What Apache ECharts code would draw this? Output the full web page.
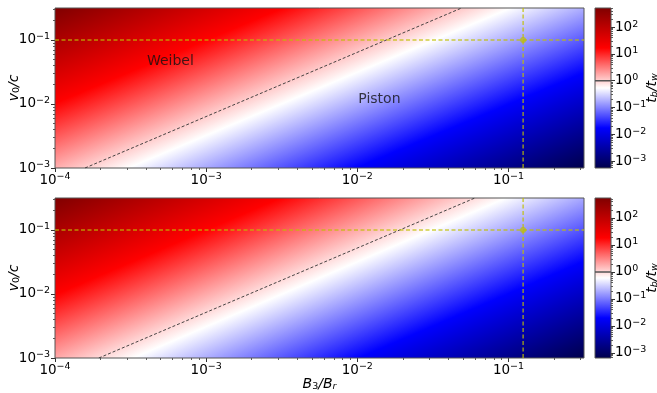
<!DOCTYPE html>
<html>
<head>
<meta charset="utf-8">
<script src="https://cdn.jsdelivr.net/npm/echarts@6.0.0/dist/echarts.min.js"></script>
<style>
  html, body { margin: 0; padding: 0; background: #fff; }
  #chart { width: 657px; height: 393px; }
</style>
</head>
<body>
<div id="chart"></div>
<script>
  // axis ranges and ticks (real units, axes are log10)
  var xRange = [1e-4, 0.316];
  var yRange = [1e-3, 0.316];
  var xTickValues = [1e-4, 1e-3, 1e-2, 1e-1];
  var yTickValues = [1e-3, 1e-2, 1e-1];
  var cbTickValues = [1e-3, 1e-2, 1e-1, 1, 10, 100];
  var minorMantissa = [2, 3, 4, 5, 6, 7, 8, 9];

  // t_b/t_w read at three corners of each panel
  var topCornerX = [1e-4, 1e-4, 0.316];
  var topCornerY = [1e-3, 0.316, 1e-3];
  var topCornerT = [1.6, 513, 5.5e-4];
  var botCornerX = [1e-4, 1e-4, 0.316];
  var botCornerY = [1e-3, 0.316, 1e-3];
  var botCornerT = [1.95, 550, 6.5e-4];

  // colour bar limits
  var topColorRange = [5.5e-4, 513];
  var botColorRange = [6.5e-4, 550];

  // t_b/t_w = 1 contour
  var topContourX = [1.58e-4, 0.049];
  var topContourY = [1e-3, 0.316];
  var botContourX = [1.95e-4, 0.060];
  var botContourY = [1e-3, 0.316];

  // yellow cross
  var markerX = [0.125];
  var markerY = [0.1];

  // region names (top panel)
  var regionNames = ['Weibel', 'Piston'];
  var regionX = [5.8e-4, 0.014];
  var regionY = [0.047, 0.0117];

  // seismic colormap
  var cmapOffsets = [0, 0.25, 0.5, 0.75, 1];
  var cmapColors = ['#00004d', '#0000ff', '#ffffff', '#ff0000', '#800000'];

  var FONT = 'DejaVu Sans';
  var lg = function (v) { return Math.log10(v); };
  var cmapStops = cmapOffsets.map(function (o, i) { return { offset: o, color: cmapColors[i] }; });

  function minorTicks(lo, hi) {
    var out = [];
    for (var k = Math.floor(lo) - 1; k <= Math.ceil(hi); k++) {
      minorMantissa.forEach(function (m) {
        var v = k + lg(m);
        if (v >= lo - 1e-9 && v <= hi + 1e-9) out.push(v);
      });
    }
    return out;
  }

  function pow10(v) {
    var e = Math.round(v);
    return '{b|10}{s|' + (e < 0 ? '\u2212' + (-e) : e) + '}';
  }

  var tickRich = {
    b: { fontSize: 13.5, lineHeight: 16, verticalAlign: 'middle', fontFamily: FONT, color: '#000' },
    s: { fontSize: 9.5, lineHeight: 8, verticalAlign: 'top', fontFamily: FONT, color: '#000' }
  };
  var nameRich = {
    i: { fontSize: 14, lineHeight: 16, verticalAlign: 'middle', fontStyle: 'italic', fontFamily: FONT, color: '#000' },
    d: { fontSize: 9.5, lineHeight: 8, verticalAlign: 'bottom', fontStyle: 'italic', fontFamily: FONT, color: '#000' },
    n: { fontSize: 9.5, lineHeight: 8, verticalAlign: 'bottom', fontFamily: FONT, color: '#000' }
  };

  function axisPair(dim, grid, range, ticks, name, nameGap) {
    var lo = lg(range[0]), hi = lg(range[1]);
    var major = {
      type: 'value', gridIndex: grid, min: lo, max: hi,
      position: dim === 'x' ? 'bottom' : 'left',
      axisLine: { show: false, onZero: false },
      splitLine: { show: false },
      axisTick: { show: true, length: 4, customValues: ticks.map(lg), lineStyle: { color: '#333', width: 1 } },
      axisLabel: { customValues: ticks.map(lg), formatter: pow10, rich: tickRich, margin: dim === 'x' ? 4 : 5 }
    };
    if (name) {
      major.name = name;
      major.nameLocation = 'middle';
      major.nameGap = nameGap;
      major.nameMoveOverlap = false;
      major.nameTextStyle = { rich: nameRich };
      if (dim === 'y') major.nameRotate = 90;
    }
    var minor = {
      type: 'value', gridIndex: grid, min: lo, max: hi,
      position: dim === 'x' ? 'bottom' : 'left',
      axisLine: { show: false, onZero: false },
      splitLine: { show: false },
      axisTick: { show: true, length: 2, customValues: minorTicks(lo, hi), lineStyle: { color: '#333', width: 0.8 } },
      axisLabel: { show: false }
    };
    return [major, minor];
  }

  function cbAxes(grid, range) {
    var lo = lg(range[0]), hi = lg(range[1]);
    return [{
      type: 'value', gridIndex: grid, min: lo, max: hi, position: 'right',
      axisLine: { show: false, onZero: false },
      splitLine: { show: false },
      axisTick: { show: true, length: 4, customValues: cbTickValues.map(lg), lineStyle: { color: '#333', width: 1 } },
      axisLabel: { customValues: cbTickValues.map(lg), formatter: pow10, rich: tickRich, margin: 4 },
      name: '{i|t}{d|b}{i|/t}{d|w}', nameLocation: 'middle', nameRotate: 90, nameGap: 33,
      nameMoveOverlap: false,
      nameTextStyle: { rich: nameRich }
    }, {
      type: 'value', gridIndex: grid, min: lo, max: hi, position: 'right',
      axisLine: { show: false, onZero: false },
      splitLine: { show: false },
      axisTick: { show: true, length: 2, customValues: minorTicks(lo, hi), lineStyle: { color: '#333', width: 0.8 } },
      axisLabel: { show: false }
    }];
  }

  // log-log field is a plane: fit it through the three corner readings, fill with a gradient
  function fieldRender(cx, cy, ct, range) {
    return function (params, api) {
      var p = [], v = [];
      for (var i = 0; i < 3; i++) {
        p.push(api.coord([lg(cx[i]), lg(cy[i])]));
        v.push(lg(ct[i]));
      }
      var d1x = p[1][0] - p[0][0], d1y = p[1][1] - p[0][1];
      var d2x = p[2][0] - p[0][0], d2y = p[2][1] - p[0][1];
      var dv1 = v[1] - v[0], dv2 = v[2] - v[0];
      var det = d1x * d2y - d1y * d2x;
      var gb = (dv1 * d2y - dv2 * d1y) / det;
      var gc = (d1x * dv2 - d2x * dv1) / det;
      var g2 = gb * gb + gc * gc;
      var s0 = (lg(range[0]) - v[0]) / g2, s1 = (lg(range[1]) - v[0]) / g2;
      var grad = new echarts.graphic.LinearGradient(
        p[0][0] + s0 * gb, p[0][1] + s0 * gc,
        p[0][0] + s1 * gb, p[0][1] + s1 * gc,
        cmapStops, true);
      var cs = params.coordSys;
      var shape = { x: cs.x, y: cs.y, width: cs.width, height: cs.height };
      return {
        type: 'group',
        children: [
          { type: 'rect', shape: shape, style: { fill: grad } },
          { type: 'rect', shape: shape, style: { fill: 'none', stroke: '#555', lineWidth: 1 } }
        ]
      };
    };
  }

  function barRender(range) {
    return function (params, api) {
      var a = api.coord([0, lg(range[0])]);
      var b = api.coord([1, lg(range[1])]);
      var grad = new echarts.graphic.LinearGradient(0, a[1], 0, b[1], cmapStops, true);
      var shape = { x: a[0], y: b[1], width: b[0] - a[0], height: a[1] - b[1] };
      return {
        type: 'group',
        children: [
          { type: 'rect', shape: shape, style: { fill: grad } },
          { type: 'rect', shape: shape, style: { fill: 'none', stroke: '#555', lineWidth: 1 } }
        ]
      };
    };
  }

  function pts(xs, ys) {
    return xs.map(function (x, i) { return [lg(x), lg(ys[i])]; });
  }

  function panelSeries(xi, yi, cx, cy, ct, range, contX, contY, withNames) {
    var yellow = { color: 'rgba(191,191,0,0.75)', width: 1.5, type: [4, 2.5] };
    var list = [{
      type: 'custom', xAxisIndex: xi, yAxisIndex: yi, z: 1, silent: true,
      renderItem: fieldRender(cx, cy, ct, range),
      data: [[lg(cx[0]), lg(cy[0])]]
    }, {
      type: 'line', xAxisIndex: xi, yAxisIndex: yi, z: 3, silent: true, symbol: 'none',
      lineStyle: { color: '#333', width: 0.9, type: [3, 2] },
      data: pts(contX, contY)
    }, {
      type: 'line', xAxisIndex: xi, yAxisIndex: yi, z: 4, silent: true, symbol: 'none',
      lineStyle: yellow,
      data: pts(xRange, [markerY[0], markerY[0]])
    }, {
      type: 'line', xAxisIndex: xi, yAxisIndex: yi, z: 4, silent: true, symbol: 'none',
      lineStyle: yellow,
      data: pts([markerX[0], markerX[0]], yRange)
    }, {
      type: 'scatter', xAxisIndex: xi, yAxisIndex: yi, z: 5, silent: true,
      symbolSize: 6, itemStyle: { color: 'rgba(191,191,0,0.9)' },
      data: pts(markerX, markerY)
    }];
    if (withNames) {
      list.push({
        type: 'scatter', xAxisIndex: xi, yAxisIndex: yi, z: 6, silent: true, symbolSize: 0,
        label: {
          show: true, position: 'inside', fontSize: 14, fontFamily: FONT, color: '#111',
          formatter: function (p) { return regionNames[p.dataIndex]; }
        },
        data: pts(regionX, regionY)
      });
    }
    return list;
  }

  var topX = axisPair('x', 0, xRange, xTickValues);
  var topY = axisPair('y', 0, yRange, yTickValues, '{i|v}{n|0}{i|/c}', 33);
  var botX = axisPair('x', 1, xRange, xTickValues, '{i|B}{n|3}{i|/B}{d|r}', 18);
  var botY = axisPair('y', 1, yRange, yTickValues, '{i|v}{n|0}{i|/c}', 33);
  var topCb = cbAxes(2, topColorRange);
  var botCb = cbAxes(3, botColorRange);

  var myChart = echarts.init(document.getElementById('chart'));
  var option = {
    animation: false,
    backgroundColor: '#fff',
    textStyle: { fontFamily: FONT },
    grid: [
      { left: 55, top: 8, width: 529, height: 160, outerBoundsMode: 'none', containLabel: false },
      { left: 55, top: 198, width: 529, height: 160, outerBoundsMode: 'none', containLabel: false },
      { left: 595, top: 8, width: 16, height: 160, outerBoundsMode: 'none', containLabel: false },
      { left: 595, top: 198, width: 16, height: 160, outerBoundsMode: 'none', containLabel: false }
    ],
    xAxis: [
      topX[0], topX[1], botX[0], botX[1],
      { type: 'value', gridIndex: 2, min: 0, max: 1, show: false },
      { type: 'value', gridIndex: 3, min: 0, max: 1, show: false }
    ],
    yAxis: [topY[0], topY[1], botY[0], botY[1], topCb[0], topCb[1], botCb[0], botCb[1]],
    series: [].concat(
      panelSeries(0, 0, topCornerX, topCornerY, topCornerT, topColorRange, topContourX, topContourY, true),
      panelSeries(2, 2, botCornerX, botCornerY, botCornerT, botColorRange, botContourX, botContourY, false),
      [{
        type: 'custom', xAxisIndex: 4, yAxisIndex: 4, silent: true,
        renderItem: barRender(topColorRange), data: [[0, 0]]
      }, {
        type: 'line', xAxisIndex: 4, yAxisIndex: 4, z: 3, silent: true, symbol: 'none',
        lineStyle: { color: '#555', width: 1.5 }, data: [[0, 0], [1, 0]]
      }, {
        type: 'custom', xAxisIndex: 5, yAxisIndex: 6, silent: true,
        renderItem: barRender(botColorRange), data: [[0, 0]]
      }, {
        type: 'line', xAxisIndex: 5, yAxisIndex: 6, z: 3, silent: true, symbol: 'none',
        lineStyle: { color: '#555', width: 1.5 }, data: [[0, 0], [1, 0]]
      }]
    )
  };

  option && myChart.setOption(option);
</script>
</body>
</html>
